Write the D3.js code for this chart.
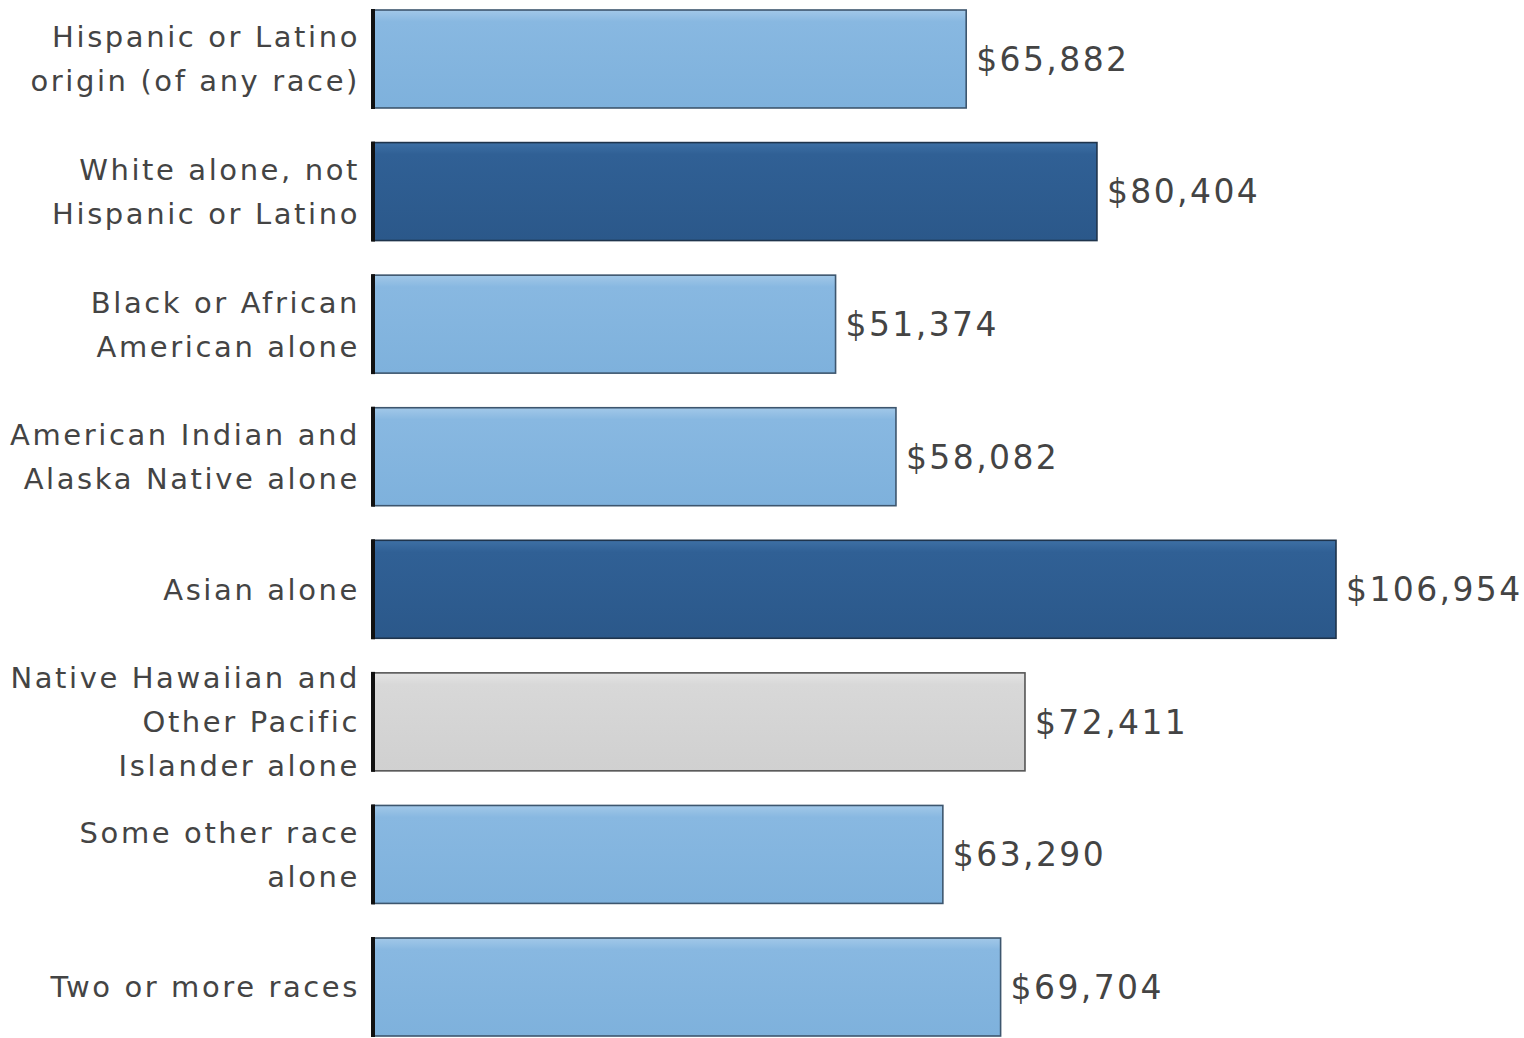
<!DOCTYPE html>
<html>
<head>
<meta charset="utf-8">
<script src="https://cdn.jsdelivr.net/npm/d3@7"></script>
<style>
  html, body { margin: 0; padding: 0; background: #fff; }
  svg { display: block; }
</style>
</head>
<body>
<svg id="chart" width="1524" height="1038"></svg>
<script>
// median household income by race / origin
const categories = [
    ["Hispanic or Latino", "origin (of any race)"],
    ["White alone, not", "Hispanic or Latino"],
    ["Black or African", "American alone"],
    ["American Indian and", "Alaska Native alone"],
    ["Asian alone"],
    ["Native Hawaiian and", "Other Pacific", "Islander alone"],
    ["Some other race", "alone"],
    ["Two or more races"]
];
const incomes = [65882, 80404, 51374, 58082, 106954, 72411, 63290, 69704];
const colorGroup = ["light", "dark", "light", "light", "dark", "gray", "light", "light"];

const svg = d3.select("#chart");
const margin = { left: 373 };
const colors = {
    light: { top: "#a2c8e8", mid: "#88b8e1", bot: "#7eb1dc", stroke: "#3d566e" },
    dark: { top: "#3e70a5", mid: "#306095", bot: "#2b588a", stroke: "#1f344c" },
    gray: { top: "#e4e4e4", mid: "#d8d8d8", bot: "#d0d0d0", stroke: "#555" }
};

const defs = svg.append("defs");
Object.entries(colors).forEach(([k, c]) => {
    const grad = defs.append("linearGradient")
        .attr("id", "grad-" + k)
        .attr("x1", 0).attr("y1", 0).attr("x2", 0).attr("y2", 1);
    grad.append("stop").attr("offset", "0%").attr("stop-color", c.top);
    grad.append("stop").attr("offset", "12%").attr("stop-color", c.mid);
    grad.append("stop").attr("offset", "100%").attr("stop-color", c.bot);
});

const keys = categories.map(d => d.join(" "));
const x = d3.scaleLinear()
    .domain([0, 106954])
    .range([0, 963]);
const y = d3.scaleBand()
    .domain(keys)
    .range([-24.6, 1070.6])
    .padding(0.261);

const g = svg.append("g").attr("transform", `translate(${margin.left},0)`);

g.selectAll("rect.bar")
    .data(incomes)
    .join("rect")
    .attr("class", "bar")
    .attr("x", 0)
    .attr("y", (d, i) => y(keys[i]))
    .attr("width", d => x(d))
    .attr("height", y.bandwidth())
    .style("fill", (d, i) => `url(#grad-${colorGroup[i]})`)
    .style("stroke", (d, i) => colors[colorGroup[i]].stroke)
    .style("stroke-width", "1.6px");

// thick left edge on each bar
g.selectAll("line.edge")
    .data(incomes)
    .join("line")
    .attr("class", "edge")
    .attr("x1", 0).attr("x2", 0)
    .attr("y1", (d, i) => y(keys[i]) - 1)
    .attr("y2", (d, i) => y(keys[i]) + y.bandwidth() + 1)
    .style("stroke", "#111")
    .style("stroke-width", "4px");

const fmt = d3.format("$,");
g.selectAll("text.value")
    .data(incomes)
    .join("text")
    .attr("class", "value")
    .attr("x", d => x(d) + 10)
    .attr("y", (d, i) => y(keys[i]) + y.bandwidth() / 2)
    .attr("dy", "0.36em")
    .style("font-family", "'DejaVu Sans', sans-serif")
    .style("font-size", "33px")
    .style("letter-spacing", "2.4px")
    .style("fill", "#444")
    .text(d => fmt(d));

const lineH = 44;
const labels = g.selectAll("text.label")
    .data(categories)
    .join("text")
    .attr("class", "label")
    .attr("text-anchor", "end")
    .style("font-family", "'DejaVu Sans', sans-serif")
    .style("font-size", "29px")
    .style("letter-spacing", "2.6px")
    .style("fill", "#444");

labels.each(function (lines, i) {
    const cy = y(keys[i]) + y.bandwidth() / 2;
    const t = d3.select(this);
    lines.forEach((ln, j) => {
        t.append("tspan")
            .attr("x", -13)
            .attr("y", cy + (j - (lines.length - 1) / 2) * lineH)
            .attr("dy", "0.36em")
            .text(ln);
    });
});
</script>
</body>
</html>
